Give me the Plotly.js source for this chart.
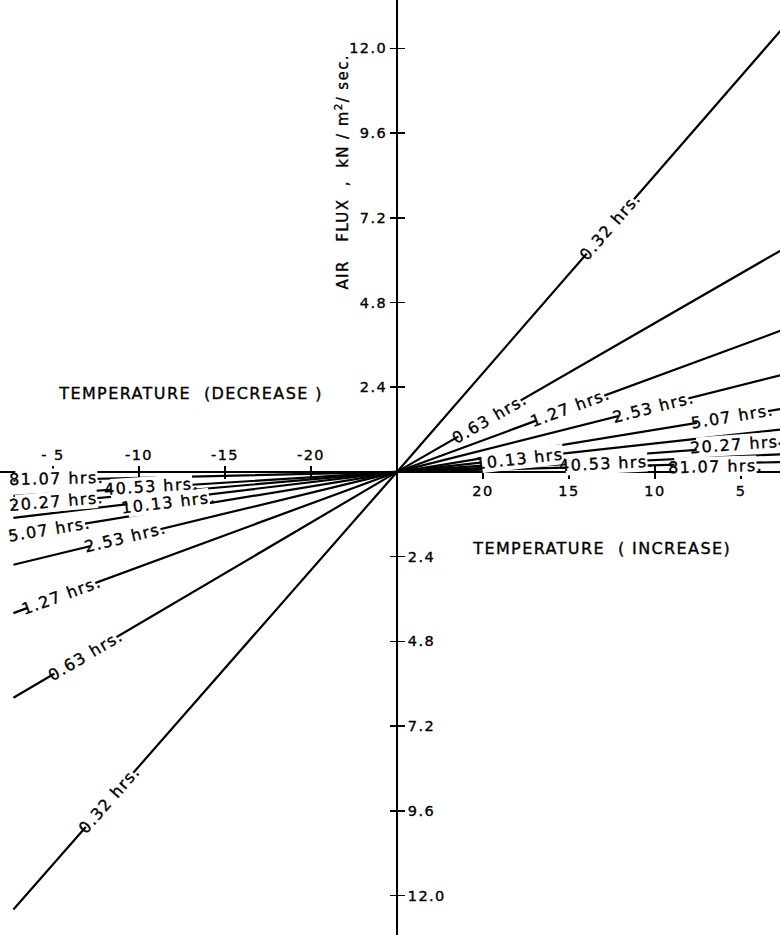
<!DOCTYPE html>
<html>
<head>
<meta charset="utf-8">
<script src="https://cdn.plot.ly/plotly-3.0.1.min.js"></script>
<style>
  html, body { margin: 0; padding: 0; background: #fff; }
  #chart { width: 780px; height: 935px; }
  .main-svg text { letter-spacing: 1.4px; stroke: #000; stroke-width: 0.35px; }
</style>
</head>
<body>
<div id="chart"></div>
<script>
// ---- data ----
const durations = ['0.32', '0.63', '1.27', '2.53', '5.07', '10.13', '20.27', '40.53', '81.07'];
// air flux (kN/m2/sec) reached by each line at the right edge (temperature increase side)
const fluxRightEdge = [12.5, 6.27, 4.0, 2.74, 1.78, 1.2, 0.8, 0.5, 0.28];
// air flux reached by each line at the left edge (temperature decrease side)
const fluxLeftEdge = [12.4, 6.4, 4.0, 2.63, 1.8, 1.3, 0.95, 0.68, 0.25];
// distance of both edges from the origin, in temperature units
const edgeDistance = 22.3;

const decreaseTickLabels = ['- 5', '-10', '-15', '-20'];
const decreaseTickValues = [-5, -10, -15, -20];
const increaseTickLabels = ['20', '15', '10', '5'];
const increaseTickValues = [20, 15, 10, 5];
const fluxTickLabels = ['2.4', '4.8', '7.2', '9.6', '12.0'];
const fluxTickValues = [2.4, 4.8, 7.2, 9.6, 12.0];
const originTemperature = 25;

// ---- layout settings ----
const W = 780, H = 935;
const xr = [-23.08, 22.27];
const yr = [-13.12, 13.37];
const pxX = W / (xr[1] - xr[0]);
const pxY = H / (yr[1] - yr[0]);
const originPaperX = (0 - xr[0]) / (xr[1] - xr[0]);
const originPaperY = (0 - yr[0]) / (yr[1] - yr[0]);

// label placement along each line (temperature-distance from origin) and pixel nudges
const labelPosRight = [12.4, 5.4, 10.1, 14.9, 19.5, 7.3, 19.8, 12.2, 18.5];
const labelPosLeft = [-16.7, -18.1, -19.5, -15.8, -20.2, -13.3, -19.8, -14.3, -19.8];
const labelShiftRight = [0, 0, 0, 0, 0, 0, 2, -1, -3];
const labelShiftLeft = [0, 0, 0, 0, 0, -3, 0, 1, 1];

const FONT = 'DejaVu Sans, Liberation Sans, sans-serif';

// axis positions for tick values
const xTickVals = [], xBottomText = [], xTopText = [];
decreaseTickValues.forEach((v, i) => {
  xTickVals.push(-(originTemperature + v));
  xBottomText.push('');
  xTopText.push(decreaseTickLabels[i]);
});
increaseTickValues.forEach((v, i) => {
  xTickVals.push(originTemperature - v);
  xBottomText.push(increaseTickLabels[i]);
  xTopText.push('');
});
const yTickVals = [], yLeftText = [], yRightText = [];
fluxTickValues.forEach((v, i) => {
  yTickVals.push(v); yLeftText.push(fluxTickLabels[i]); yRightText.push('');
  yTickVals.push(-v); yLeftText.push(''); yRightText.push(fluxTickLabels[i]);
});

const traces = durations.map((d, i) => ({
  type: 'scatter', mode: 'lines',
  x: [-edgeDistance, 0, edgeDistance],
  y: [-fluxLeftEdge[i], 0, fluxRightEdge[i]],
  line: { color: '#000', width: 2.2 },
  hoverinfo: 'skip', showlegend: false
}));
// invisible helper so the overlay axes are drawn
traces.push({
  type: 'scatter', mode: 'markers', x: [0], y: [0], xaxis: 'x2', yaxis: 'y2',
  marker: { opacity: 0, size: 1 }, hoverinfo: 'skip', showlegend: false
});

const labelFont = { family: FONT, size: 16, color: '#000' };
const annotations = [];
durations.forEach((d, i) => {
  const kR = fluxRightEdge[i] / edgeDistance;
  const kL = fluxLeftEdge[i] / edgeDistance;
  const angR = -Math.atan(kR * pxY / pxX) * 180 / Math.PI;
  const angL = -Math.atan(kL * pxY / pxX) * 180 / Math.PI;
  const txt = d + '\u00a0hrs.';
  annotations.push({
    x: labelPosRight[i], y: kR * labelPosRight[i], xref: 'x', yref: 'y',
    xanchor: 'center', yanchor: 'middle', yshift: labelShiftRight[i],
    text: txt, showarrow: false, textangle: angR, bgcolor: '#fff', borderpad: 0,
    font: labelFont
  });
  annotations.push({
    x: labelPosLeft[i], y: kL * labelPosLeft[i], xref: 'x', yref: 'y',
    xanchor: 'center', yanchor: 'middle', yshift: labelShiftLeft[i],
    text: txt, showarrow: false, textangle: angL, bgcolor: '#fff', borderpad: 0,
    font: labelFont
  });
});
annotations.push({
  xref: 'paper', yref: 'paper', x: 190 / W, y: 1 - 393 / H,
  xanchor: 'center', yanchor: 'middle',
  text: 'TEMPERATURE\u00a0\u00a0(DECREASE\u00a0)', showarrow: false,
  font: { family: FONT, size: 16, color: '#000' }
});
annotations.push({
  xref: 'paper', yref: 'paper', x: 601 / W, y: 1 - 548 / H,
  xanchor: 'center', yanchor: 'middle',
  text: 'TEMPERATURE\u00a0\u00a0(\u00a0INCREASE)', showarrow: false,
  font: { family: FONT, size: 16, color: '#000' }
});
annotations.push({
  xref: 'paper', yref: 'paper', x: 342 / W, y: 1 - 172 / H,
  xanchor: 'center', yanchor: 'middle',
  text: 'AIR\u00a0\u00a0\u00a0FLUX\u00a0\u00a0,\u00a0\u00a0kN\u00a0/\u00a0m<sup>2</sup>/\u00a0sec.', showarrow: false,
  textangle: -90,
  font: { family: FONT, size: 15, color: '#000' }
});

const tickFont = { family: FONT, size: 14.5, color: '#000' };
const layout = {
  width: W, height: H,
  margin: { l: 0, r: 0, t: 0, b: 0, pad: 0 },
  paper_bgcolor: '#fff', plot_bgcolor: '#fff',
  showlegend: false,
  xaxis: {
    range: xr, domain: [0, 1], anchor: 'free', position: originPaperY, side: 'bottom',
    tickmode: 'array', tickvals: xTickVals, ticktext: xBottomText,
    ticks: 'outside', ticklen: 6, tickwidth: 1.6, tickcolor: '#000',
    showgrid: false, showline: false,
    zeroline: true, zerolinecolor: '#000', zerolinewidth: 2,
    tickfont: tickFont, fixedrange: true
  },
  xaxis2: {
    range: xr, overlaying: 'x', anchor: 'free', position: originPaperY, side: 'top',
    tickmode: 'array', tickvals: xTickVals, ticktext: xTopText,
    ticks: 'outside', ticklen: 6, tickwidth: 1.6, tickcolor: '#000',
    showgrid: false, showline: false, zeroline: false,
    tickfont: tickFont, fixedrange: true
  },
  yaxis: {
    range: yr, domain: [0, 1], anchor: 'free', position: originPaperX, side: 'left',
    tickmode: 'array', tickvals: yTickVals, ticktext: yLeftText,
    ticks: 'outside', ticklen: 7, tickwidth: 1.6, tickcolor: '#000',
    showgrid: false, showline: false,
    zeroline: true, zerolinecolor: '#000', zerolinewidth: 2.5,
    tickfont: tickFont, fixedrange: true
  },
  yaxis2: {
    range: yr, overlaying: 'y', anchor: 'free', position: originPaperX, side: 'right',
    tickmode: 'array', tickvals: yTickVals, ticktext: yRightText,
    ticks: 'outside', ticklen: 7, tickwidth: 1.6, tickcolor: '#000',
    showgrid: false, showline: false, zeroline: false,
    tickfont: tickFont, fixedrange: true
  },
  annotations: annotations
};

Plotly.newPlot('chart', traces, layout, { staticPlot: true, displayModeBar: false });
</script>
</body>
</html>
